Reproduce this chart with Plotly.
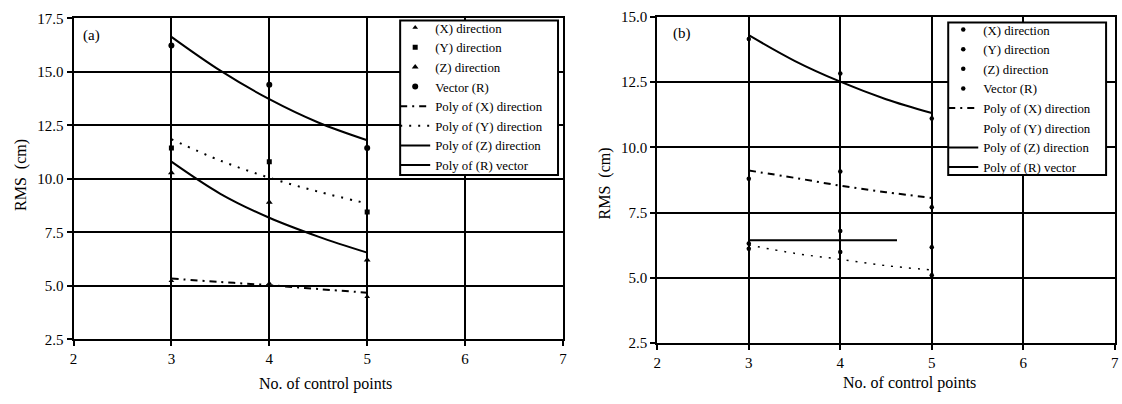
import plotly.graph_objects as go

# ---------------- data: panel (a) ----------------
pts_x = [3, 4, 5]
a_X = [5.24, 5.12, 4.49]
a_Y = [11.44, 10.80, 8.45]
a_Z = [10.28, 8.90, 6.21]
a_R = [16.23, 14.39, 11.44]

fit_x = [3, 3.5, 4, 4.5, 5]
a_fit_X = [5.34, 5.18, 5.03, 4.85, 4.68]
a_fit_Y = [11.85, 10.85, 10.05, 9.40, 8.85]
a_fit_Z = [10.80, 9.30, 8.18, 7.30, 6.55]
a_fit_R = [16.63, 15.05, 13.72, 12.63, 11.80]

# ---------------- data: panel (b) ----------------
b_X = [8.79, 9.07, 7.70]
b_Y = [6.11, 5.99, 5.10]
b_Z = [6.32, 6.79, 6.17]
b_R = [14.14, 12.82, 11.10]

b_fit_X = [9.11, 8.83, 8.53, 8.28, 8.06]
b_fit_Y = [6.26, 5.94, 5.71, 5.47, 5.30]
b_fit_R = [14.29, 13.31, 12.51, 11.84, 11.31]
b_fit_Z_x = [3, 4.62]
b_fit_Z = [6.44, 6.44]

names_pts = ["(X) direction", "(Y) direction", "(Z) direction", "Vector (R)"]
names_fit = ["Poly of (X) direction", "Poly of (Y) direction",
             "Poly of (Z) direction", "Poly of (R) vector"]

x_ticks = [2, 3, 4, 5, 6, 7]

FONT = "Liberation Serif, DejaVu Serif, serif"
BLACK = "#000000"
DOT = "2px,7px"
DASHDOT = "7px,5px,2px,5px"

fig = go.Figure()

# panel (a) points
a_sym = ["triangle-up", "square", "triangle-up", "circle"]
a_size = [5, 5, 6, 6]
for nm, vals, sym, sz in zip(names_pts, [a_X, a_Y, a_Z, a_R], a_sym, a_size):
    fig.add_trace(go.Scatter(x=pts_x, y=vals, mode="markers", name=nm,
                             marker=dict(symbol=sym, size=sz, color=BLACK),
                             xaxis="x", yaxis="y", legend="legend"))
# panel (a) fits
a_dash = [DASHDOT, DOT, "solid", "solid"]
for nm, vals, d in zip(names_fit, [a_fit_X, a_fit_Y, a_fit_Z, a_fit_R], a_dash):
    fig.add_trace(go.Scatter(x=fit_x, y=vals, mode="lines", name=nm,
                             line=dict(color=BLACK, width=2, dash=d, shape="spline"),
                             xaxis="x", yaxis="y", legend="legend"))

# panel (b) points
for nm, vals in zip(names_pts, [b_X, b_Y, b_Z, b_R]):
    fig.add_trace(go.Scatter(x=pts_x, y=vals, mode="markers", name=nm,
                             marker=dict(symbol="circle", size=4.5, color=BLACK),
                             xaxis="x2", yaxis="y2", legend="legend2"))
# panel (b) fits
fig.add_trace(go.Scatter(x=fit_x, y=b_fit_X, mode="lines", name=names_fit[0],
                         line=dict(color=BLACK, width=2, dash=DASHDOT, shape="spline"),
                         xaxis="x2", yaxis="y2", legend="legend2"))
fig.add_trace(go.Scatter(x=fit_x, y=b_fit_Y, mode="lines", name=names_fit[1],
                         line=dict(color=BLACK, width=1.5, dash=DOT, shape="spline"),
                         xaxis="x2", yaxis="y2", showlegend=False))
fig.add_trace(go.Scatter(x=[None], y=[None], mode="lines", name=names_fit[1],
                         line=dict(color="rgba(0,0,0,0)", width=0),
                         xaxis="x2", yaxis="y2", legend="legend2"))
fig.add_trace(go.Scatter(x=b_fit_Z_x, y=b_fit_Z, mode="lines", name=names_fit[2],
                         line=dict(color=BLACK, width=2),
                         xaxis="x2", yaxis="y2", legend="legend2"))
fig.add_trace(go.Scatter(x=fit_x, y=b_fit_R, mode="lines", name=names_fit[3],
                         line=dict(color=BLACK, width=2, shape="spline"),
                         xaxis="x2", yaxis="y2", legend="legend2"))

W, H = 1122, 404

def px(x):
    return x / W

def py(y):
    return 1 - y / H

axis_common = dict(showgrid=True, gridcolor=BLACK, gridwidth=2,
                   showline=True, linecolor=BLACK, linewidth=2, mirror=True,
                   ticks="outside", ticklen=5, tickwidth=1.5, tickcolor=BLACK,
                   zeroline=False, tickfont=dict(family=FONT, size=15, color=BLACK))

leg_common = dict(xanchor="left", yanchor="top",
                  bgcolor="rgba(0,0,0,0)", borderwidth=0,
                  font=dict(family=FONT, size=12.8, color=BLACK),
                  itemwidth=30, tracegroupgap=0)

def ann(text, x, y, size, angle=0):
    return dict(text=text, x=px(x), y=py(y), xref="paper", yref="paper",
                xanchor="center", yanchor="middle", showarrow=False,
                textangle=angle, font=dict(family=FONT, size=size, color=BLACK))

def legend_box(x0, y0, x1, y1):
    return dict(type="rect", xref="paper", yref="paper",
                x0=px(x0), x1=px(x1), y0=py(y1), y1=py(y0),
                fillcolor="white", line=dict(color=BLACK, width=2), layer="above")

fig.update_layout(
    width=W, height=H,
    margin=dict(l=0, r=0, t=0, b=0),
    paper_bgcolor="white", plot_bgcolor="white",
    font=dict(family=FONT, color=BLACK),
    xaxis=dict(domain=[px(70), px(563)], range=[2, 7], tickvals=x_ticks,
               anchor="y", **axis_common),
    yaxis=dict(domain=[py(345), py(10.7)], range=[2.5, 17.5], tick0=2.5, dtick=2.5,
               tickformat=".1f", anchor="x", **axis_common),
    xaxis2=dict(domain=[px(658), px(1118.7)], range=[2, 7], tickvals=x_ticks,
                anchor="y2", **axis_common),
    yaxis2=dict(domain=[py(349), py(9)], range=[2.5, 15.0], tick0=2.5, dtick=2.5,
                tickformat=".1f", anchor="x2", **axis_common),
    legend=dict(x=px(394), y=py(5), **leg_common),
    legend2=dict(x=px(946), y=py(7), **leg_common),
    shapes=[legend_box(399, 13, 558, 174), legend_box(951, 15, 1110, 174)],
    annotations=[
        ann("(a)", 88, 29, 15),
        ann("(b)", 683, 27, 15),
        ann("No. of control points", 324, 392, 16),
        ann("No. of control points", 912, 390, 16),
        ann("RMS  (cm)", 17, 174, 16, -90),
        ann("RMS  (cm)", 605, 183, 16, -90),
    ],
)

fig.write_html("out.html")
